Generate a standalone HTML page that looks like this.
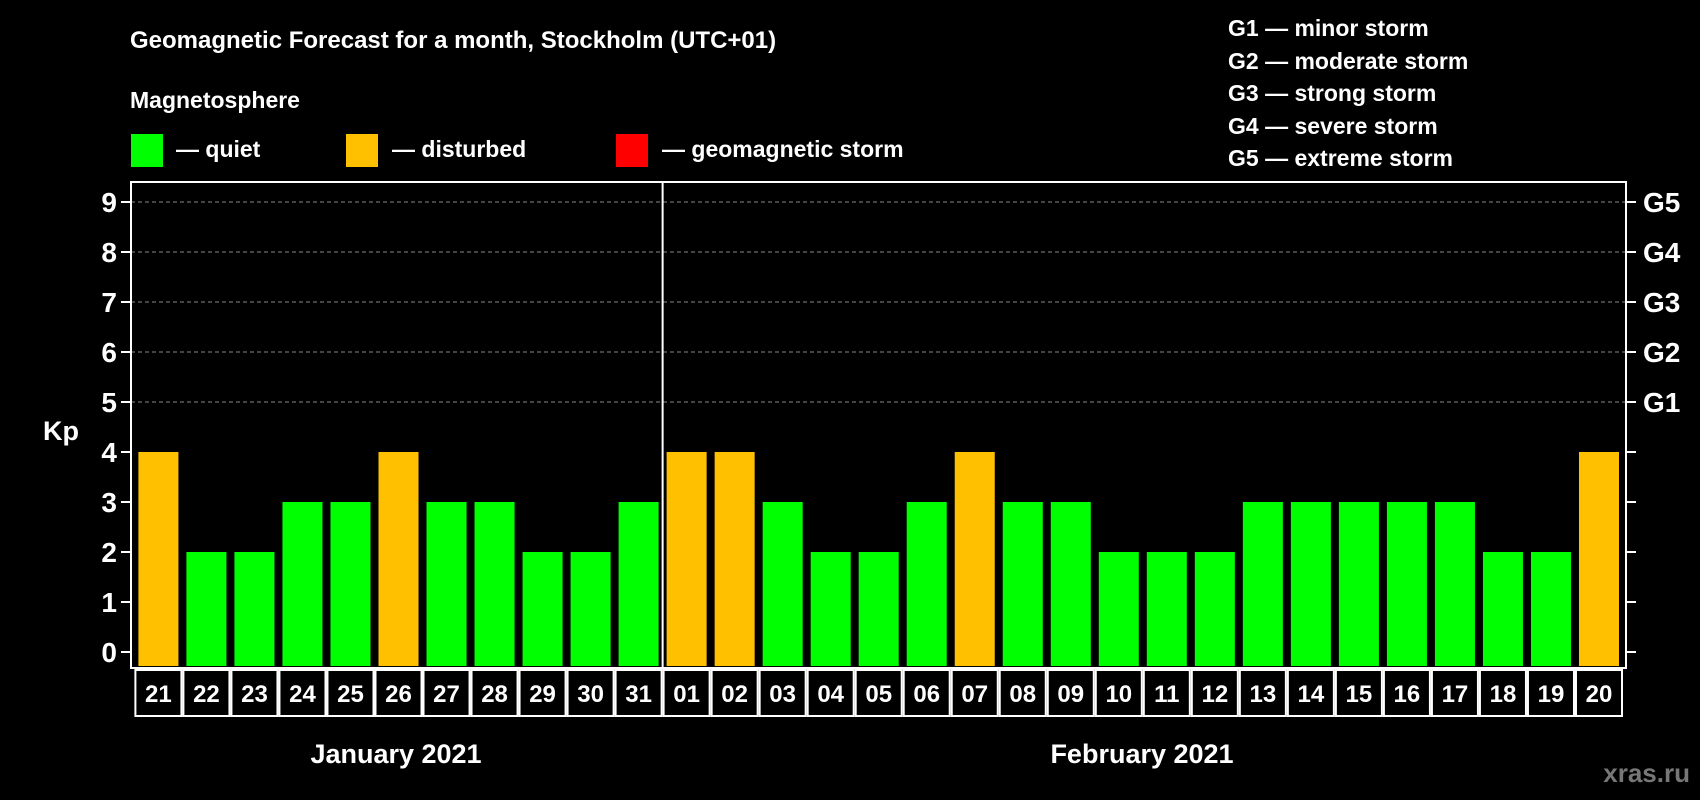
<!DOCTYPE html>
<html><head><meta charset="utf-8"><style>
html,body{margin:0;padding:0;background:#000;}
svg{display:block;font-family:"Liberation Sans",Arial,sans-serif;font-weight:bold;}
</style></head><body>
<svg id="chart" width="1700" height="800" viewBox="0 0 1700 800">
<text x="130" y="48" fill="#fff" font-size="24">Geomagnetic Forecast for a month, Stockholm (UTC+01)</text>
<text x="130" y="108" fill="#fff" font-size="23">Magnetosphere</text>
<rect x="131" y="134" width="32" height="33" fill="#00ff00"/>
<text x="176" y="157" fill="#fff" font-size="23">— quiet</text>
<rect x="346" y="134" width="32" height="33" fill="#ffc000"/>
<text x="392" y="157" fill="#fff" font-size="23">— disturbed</text>
<rect x="616" y="134" width="32" height="33" fill="#ff0000"/>
<text x="662" y="157" fill="#fff" font-size="23">— geomagnetic storm</text>
<g fill="#fff" font-size="23">
<text x="1228" y="36">G1 — minor storm</text>
<text x="1228" y="69">G2 — moderate storm</text>
<text x="1228" y="101">G3 — strong storm</text>
<text x="1228" y="134">G4 — severe storm</text>
<text x="1228" y="166">G5 — extreme storm</text>
</g>
<text x="43" y="440" fill="#fff" font-size="27">Kp</text>
<g id="grid"></g><g id="bars"></g><g id="axes"></g><g id="xlabels"></g>
<text x="396" y="763" text-anchor="middle" fill="#fff" font-size="27">January 2021</text>
<text x="1142" y="763" text-anchor="middle" fill="#fff" font-size="27">February 2021</text>
<text x="1690" y="782" text-anchor="end" fill="#777" font-size="26">xras.ru</text>
</svg>
<script>
const days=["21","22","23","24","25","26","27","28","29","30","31","01","02","03","04","05","06","07","08","09","10","11","12","13","14","15","16","17","18","19","20"];
const kpValues=[4,2,2,3,3,4,3,3,2,2,3,4,4,3,2,2,3,4,3,3,2,2,2,3,3,3,3,3,2,2,4];
const yTicks=[0,1,2,3,4,5,6,7,8,9];
const gLabels=["G1","G2","G3","G4","G5"];
const NS="http://www.w3.org/2000/svg";
const L=131,R=1626,T=182,B=668,X0=134.4,SW=(1623-134.4)/31;
const y=v=>652-v*50;
const x=i=>X0+i*SW;
function mk(tag,attrs,parent,txt){const e=document.createElementNS(NS,tag);for(const k in attrs)e.setAttribute(k,attrs[k]);if(txt!==undefined)e.textContent=txt;document.getElementById(parent).appendChild(e);return e;}
yTicks.forEach(v=>{
 if(v>=5){const g=mk('line',{x1:L,x2:R,y1:y(v),y2:y(v),stroke:'#888','stroke-dasharray':'4,3','stroke-width':1},'grid');
 
 }
 const t1=mk('line',{x1:L-10,x2:L,y1:y(v),y2:y(v),stroke:'#fff','stroke-width':2},'axes');
 
 
 const t2=mk('line',{x1:R,x2:R+10,y1:y(v),y2:y(v),stroke:'#fff','stroke-width':2},'axes');
 
 
 const lb=mk('text',{x:L-14,y:y(v)+10,'text-anchor':'end',fill:'#fff','font-size':28},'axes',String(v));
 
 
});
gLabels.forEach((g,i)=>{
 const t=mk('text',{x:R+17,y:y(5+i)+10,fill:'#fff','font-size':28},'axes',g);
 
 
});
kpValues.forEach((v,i)=>{
 const col=v>=5?'#ff0000':(v>=4?'#ffc000':'#00ff00');
 const b=mk('rect',{x:x(i)+4,y:y(v),width:SW-8,height:B-2-y(v),fill:col},'bars');
 
 
 const bx=mk('rect',{x:x(i)+1,y:B+2,width:SW-2,height:46,fill:'none',stroke:'#fff','stroke-width':2},'xlabels');
 
 
 const t=mk('text',{x:x(i)+SW/2,y:B+34,'text-anchor':'middle',fill:'#fff','font-size':24},'xlabels',days[i]);
 
 
});
const fr=mk('rect',{x:L,y:T,width:R-L,height:B-T,fill:'none',stroke:'#fff','stroke-width':2},'axes');


const di=days.indexOf("01");
const dv=mk('line',{x1:x(di),x2:x(di),y1:T,y2:B,stroke:'#fff','stroke-width':2},'axes');


</script>
</body></html>
